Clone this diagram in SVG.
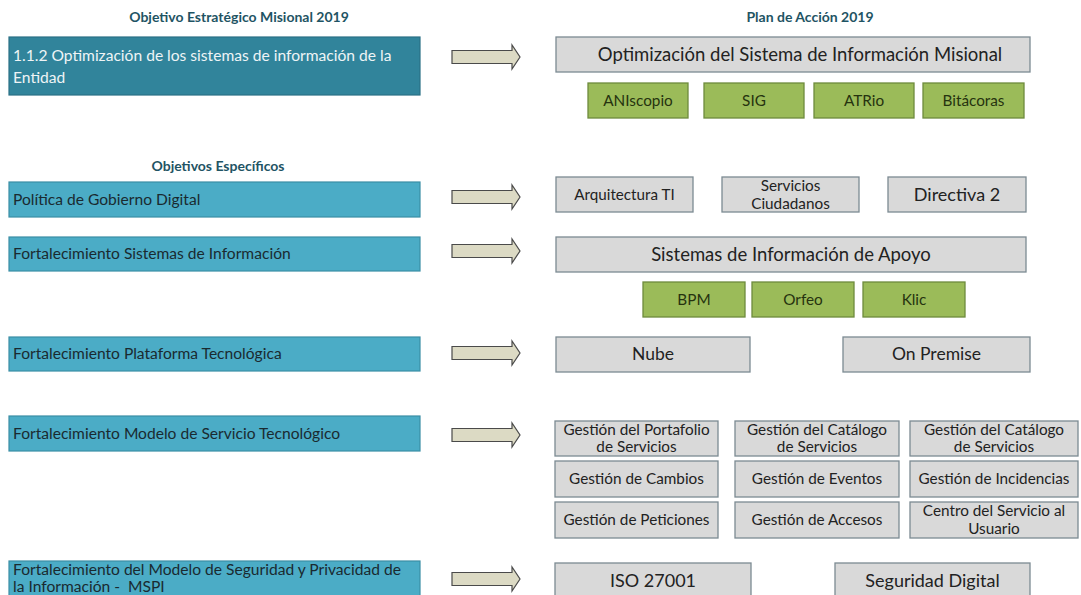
<svg xmlns="http://www.w3.org/2000/svg" width="1081" height="595" viewBox="0 0 1081 595">
<defs>
<style>
.title{font-family:Lato,"Liberation Sans",sans-serif;font-weight:bold;font-size:14px;fill:#1F5464;text-anchor:middle}
.dark{fill:#31849B;stroke:#2A7085;stroke-width:1.2}
.light{fill:#4BACC6;stroke:#3A8EA5;stroke-width:1.2}
.gray{fill:#D9D9D9;stroke:#7C8A92;stroke-width:1.3}
.green{fill:#9BBB59;stroke:#6E8B3D;stroke-width:1.3}
.lt{font-family:Lato,"Liberation Sans",sans-serif;font-size:15.6px;fill:#1A2A30}
.wt{font-family:Lato,"Liberation Sans",sans-serif;font-size:15.6px;fill:#EEF4F6}
.ct{font-family:Lato,"Liberation Sans",sans-serif;fill:#222;text-anchor:middle}
.gt{font-family:Lato,"Liberation Sans",sans-serif;fill:#26330F;text-anchor:middle;font-size:15.3px}
.arrow{fill:#DCDAC4;stroke:#4A4A4A;stroke-width:1.2}
</style>
<path id="arr" d="M0,-6.5 H60 V-12 L68,0 L60,12 V6.5 H0 Z"/>
</defs>
<rect width="1081" height="595" fill="#FFFFFF"/>

<text class="title" x="239" y="22">Objetivo Estratégico Misional 2019</text>
<text class="title" x="810" y="22">Plan de Acción 2019</text>
<text class="title" x="218" y="171">Objetivos Específicos</text>

<g id="connectors">
<use href="#arr" class="arrow" x="452" y="57"/>
<use href="#arr" class="arrow" x="452" y="197"/>
<use href="#arr" class="arrow" x="452" y="251"/>
<use href="#arr" class="arrow" x="452" y="353"/>
<use href="#arr" class="arrow" x="452" y="435"/>
<use href="#arr" class="arrow" x="452" y="579"/>
</g>

<g id="obj-misional"><rect class="dark" x="9" y="37" width="411" height="58"/>
<text class="wt" x="13" y="61">1.1.2 Optimización de los sistemas de información de la</text>
<text class="wt" x="13" y="83">Entidad</text></g>

<g id="obj-gobierno"><rect class="light" x="9" y="182" width="411" height="35"/><text class="lt" x="13" y="205">Política de Gobierno Digital</text></g>
<g id="obj-sistemas"><rect class="light" x="9" y="237" width="411" height="34"/><text class="lt" x="13" y="259">Fortalecimiento Sistemas de Información</text></g>
<g id="obj-plataforma"><rect class="light" x="9" y="337" width="411" height="34"/><text class="lt" x="13" y="359">Fortalecimiento Plataforma Tecnológica</text></g>
<g id="obj-modelo"><rect class="light" x="9" y="416" width="411" height="35"/><text class="lt" x="13" y="439">Fortalecimiento Modelo de Servicio Tecnológico</text></g>
<g id="obj-mspi"><rect class="light" x="9" y="561" width="411" height="40"/>
<text class="lt" x="13" y="575">Fortalecimiento del Modelo de Seguridad y Privacidad de</text>
<text class="lt" x="13" y="592">la Información - &#160;MSPI</text></g>

<g id="plan-misional"><rect class="gray" x="556" y="37" width="474" height="35"/><text class="ct" x="800" y="61" font-size="18.5">Optimización del Sistema de Información Misional</text></g>
<g id="aniscopio"><rect class="green" x="588" y="83" width="100" height="35"/><text class="gt" x="638" y="106">ANIscopio</text></g>
<g id="sig"><rect class="green" x="704" y="83" width="100" height="35"/><text class="gt" x="754" y="106">SIG</text></g>
<g id="atrio"><rect class="green" x="814" y="83" width="100" height="35"/><text class="gt" x="864" y="106">ATRio</text></g>
<g id="bitacoras"><rect class="green" x="923" y="83" width="101" height="35"/><text class="gt" x="973.5" y="106">Bitácoras</text></g>

<g id="arquitectura"><rect class="gray" x="556" y="177" width="137" height="35"/><text class="ct" x="624.5" y="200" font-size="15.2">Arquitectura TI</text></g>
<g id="servicios-ciudadanos"><rect class="gray" x="722" y="177" width="137" height="35"/><text class="ct" x="790.5" y="191" font-size="15.3">Servicios</text><text class="ct" x="790.5" y="209" font-size="15.3">Ciudadanos</text></g>
<g id="directiva"><rect class="gray" x="888" y="177" width="138" height="35"/><text class="ct" x="957" y="201" font-size="18">Directiva 2</text></g>

<g id="sistemas-apoyo"><rect class="gray" x="556" y="237" width="470" height="35"/><text class="ct" x="791" y="261" font-size="18.5">Sistemas de Información de Apoyo</text></g>
<g id="bpm"><rect class="green" x="643" y="282" width="102" height="35"/><text class="gt" x="694" y="305">BPM</text></g>
<g id="orfeo"><rect class="green" x="752" y="282" width="102" height="35"/><text class="gt" x="803" y="305">Orfeo</text></g>
<g id="klic"><rect class="green" x="863" y="282" width="102" height="35"/><text class="gt" x="914" y="305">Klic</text></g>

<g id="nube"><rect class="gray" x="556" y="337" width="194" height="35"/><text class="ct" x="653" y="360" font-size="17.5">Nube</text></g>
<g id="on-premise"><rect class="gray" x="843" y="337" width="187" height="35"/><text class="ct" x="936.5" y="360" font-size="17.5">On Premise</text></g>

<g id="g-portafolio"><rect class="gray" x="555" y="421" width="163" height="35"/><text class="ct" x="636.5" y="435" font-size="15.3">Gestión del Portafolio</text><text class="ct" x="636.5" y="452" font-size="15.3">de Servicios</text></g>
<g id="g-catalogo1"><rect class="gray" x="735" y="421" width="164" height="35"/><text class="ct" x="817" y="435" font-size="15.3">Gestión del Catálogo</text><text class="ct" x="817" y="452" font-size="15.3">de Servicios</text></g>
<g id="g-catalogo2"><rect class="gray" x="910" y="421" width="168" height="35"/><text class="ct" x="994" y="435" font-size="15.3">Gestión del Catálogo</text><text class="ct" x="994" y="452" font-size="15.3">de Servicios</text></g>
<g id="g-cambios"><rect class="gray" x="555" y="461" width="163" height="36"/><text class="ct" x="636.5" y="484" font-size="15.3">Gestión de Cambios</text></g>
<g id="g-eventos"><rect class="gray" x="735" y="461" width="164" height="36"/><text class="ct" x="817" y="484" font-size="15.3">Gestión de Eventos</text></g>
<g id="g-incidencias"><rect class="gray" x="910" y="461" width="168" height="36"/><text class="ct" x="994" y="484" font-size="15.3">Gestión de Incidencias</text></g>
<g id="g-peticiones"><rect class="gray" x="555" y="502" width="163" height="36"/><text class="ct" x="636.5" y="525" font-size="15.3">Gestión de Peticiones</text></g>
<g id="g-accesos"><rect class="gray" x="735" y="502" width="164" height="36"/><text class="ct" x="817" y="525" font-size="15.3">Gestión de Accesos</text></g>
<g id="g-centro"><rect class="gray" x="910" y="502" width="168" height="36"/><text class="ct" x="994" y="516" font-size="15.3">Centro del Servicio al</text><text class="ct" x="994" y="534" font-size="15.3">Usuario</text></g>

<g id="iso"><rect class="gray" x="555" y="563" width="196" height="40"/><text class="ct" x="653" y="587" font-size="18">ISO 27001</text></g>
<g id="seguridad"><rect class="gray" x="835" y="563" width="195" height="40"/><text class="ct" x="932.5" y="587" font-size="18">Seguridad Digital</text></g>
</svg>
